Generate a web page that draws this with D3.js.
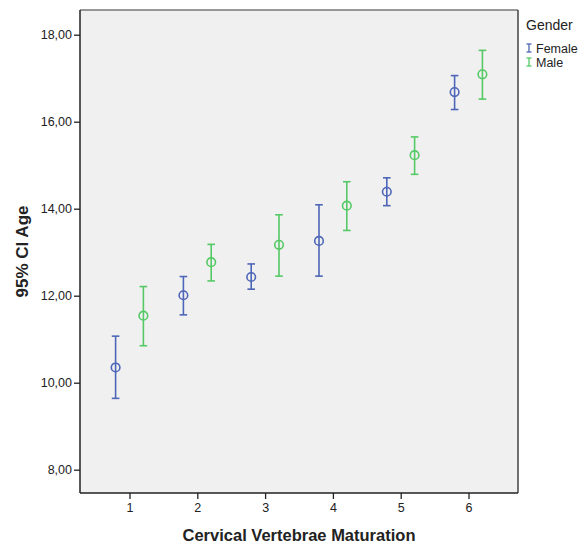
<!DOCTYPE html>
<html><head><meta charset="utf-8">
<script src="https://cdn.jsdelivr.net/npm/d3@7"></script>
<style>
html,body{margin:0;padding:0;background:#fff;}
svg{display:block;font-family:"Liberation Sans",Arial,sans-serif;}
</style></head>
<body>
<svg id="chart" width="579" height="543"></svg>
<script>
const categories = [1, 2, 3, 4, 5, 6];
const seriesNames = ["Female", "Male"];
const femaleMean  = [10.35, 12.01, 12.43, 13.26, 14.39, 16.68];
const femaleLower = [9.64, 11.56, 12.15, 12.45, 14.07, 16.28];
const femaleUpper = [11.07, 12.44, 12.73, 14.09, 14.71, 17.06];
const maleMean    = [11.54, 12.77, 13.17, 14.07, 15.23, 17.09];
const maleLower   = [10.85, 12.34, 12.45, 13.50, 14.79, 16.52];
const maleUpper   = [12.21, 13.18, 13.86, 14.62, 15.65, 17.64];
const yTicks = [8, 10, 12, 14, 16, 18];
const colors = ["#4e66b7", "#55c965"];

const svg = d3.select("#chart");
const L = 80, T = 10, R = 518, B = 493;
const x = d3.scaleLinear().domain([0.27, 6.73]).range([L, R]);
const y = d3.scaleLinear().domain([8, 18]).range([469.7, 34.7]);
const offset = 0.205;

svg.append("rect").attr("x", L).attr("y", T).attr("width", R - L).attr("height", B - T)
  .attr("fill", "#f0f0f0");

const fmt = d => d.toFixed(2).replace(".", ",");
const yAxis = svg.append("g").attr("transform", `translate(${L},0)`)
  .call(d3.axisLeft(y).tickValues(yTicks).tickFormat(fmt).tickSize(6).tickPadding(2));
yAxis.select(".domain").remove();
yAxis.selectAll("line").attr("stroke", "#222").attr("stroke-width", 1.3);
yAxis.selectAll("text").attr("font-size", 12.5).attr("fill", "#222").attr("font-family", "Liberation Sans, Arial, sans-serif");

const xAxis = svg.append("g").attr("transform", `translate(0,${B})`)
  .call(d3.axisBottom(x).tickValues(categories).tickFormat(d3.format("d")).tickSize(6).tickPadding(4));
xAxis.select(".domain").remove();
xAxis.selectAll("line").attr("stroke", "#222").attr("stroke-width", 1.3);
xAxis.selectAll("text").attr("font-size", 12.5).attr("fill", "#222").attr("font-family", "Liberation Sans, Arial, sans-serif");

// frame
svg.append("line").attr("x1", L).attr("x2", R).attr("y1", T).attr("y2", T).attr("stroke", "#777").attr("stroke-width", 1.5);
svg.append("line").attr("x1", R).attr("x2", R).attr("y1", T).attr("y2", B).attr("stroke", "#444").attr("stroke-width", 1.5);
svg.append("line").attr("x1", L).attr("x2", L).attr("y1", T).attr("y2", B).attr("stroke", "#222").attr("stroke-width", 1.5);
svg.append("line").attr("x1", L).attr("x2", R).attr("y1", B).attr("y2", B).attr("stroke", "#222").attr("stroke-width", 1.5);

const series = [
  {name: seriesNames[0], mean: femaleMean, lo: femaleLower, hi: femaleUpper, off: -offset, color: colors[0]},
  {name: seriesNames[1], mean: maleMean, lo: maleLower, hi: maleUpper, off: offset, color: colors[1]}
];
const cap = 3.8;
series.forEach(s => {
  const g = svg.append("g").attr("stroke", s.color).attr("fill", "none").attr("stroke-width", 1.6);
  categories.forEach((c, i) => {
    const cx = x(c + s.off);
    g.append("line").attr("x1", cx).attr("x2", cx).attr("y1", y(s.hi[i])).attr("y2", y(s.lo[i]));
    g.append("line").attr("x1", cx - cap).attr("x2", cx + cap).attr("y1", y(s.hi[i])).attr("y2", y(s.hi[i]));
    g.append("line").attr("x1", cx - cap).attr("x2", cx + cap).attr("y1", y(s.lo[i])).attr("y2", y(s.lo[i]));
    g.append("circle").attr("cx", cx).attr("cy", y(s.mean[i])).attr("r", 4.3);
  });
});

// axis titles
svg.append("text").attr("x", (L + R) / 2).attr("y", 541).attr("text-anchor", "middle")
  .attr("font-size", 16.5).attr("font-weight", "bold").attr("fill", "#222").text("Cervical Vertebrae Maturation");
svg.append("text").attr("transform", `translate(28,${(T + B) / 2}) rotate(-90)`).attr("text-anchor", "middle")
  .attr("font-size", 17).attr("font-weight", "bold").attr("fill", "#222").text("95% CI Age");

// legend
svg.append("text").attr("x", 526).attr("y", 30).attr("font-size", 14).attr("fill", "#222").text("Gender");
series.forEach((s, i) => {
  const yy = 48 + i * 14;
  const g = svg.append("g").attr("stroke", s.color).attr("stroke-width", 1.3);
  g.append("line").attr("x1", 529).attr("x2", 529).attr("y1", yy - 4).attr("y2", yy + 4);
  g.append("line").attr("x1", 526.5).attr("x2", 531.5).attr("y1", yy - 4).attr("y2", yy - 4);
  g.append("line").attr("x1", 526.5).attr("x2", 531.5).attr("y1", yy + 4).attr("y2", yy + 4);
  svg.append("text").attr("x", 536).attr("y", yy + 4.5).attr("font-size", 12.5).attr("fill", "#222").text(s.name);
});
</script>
</body></html>
